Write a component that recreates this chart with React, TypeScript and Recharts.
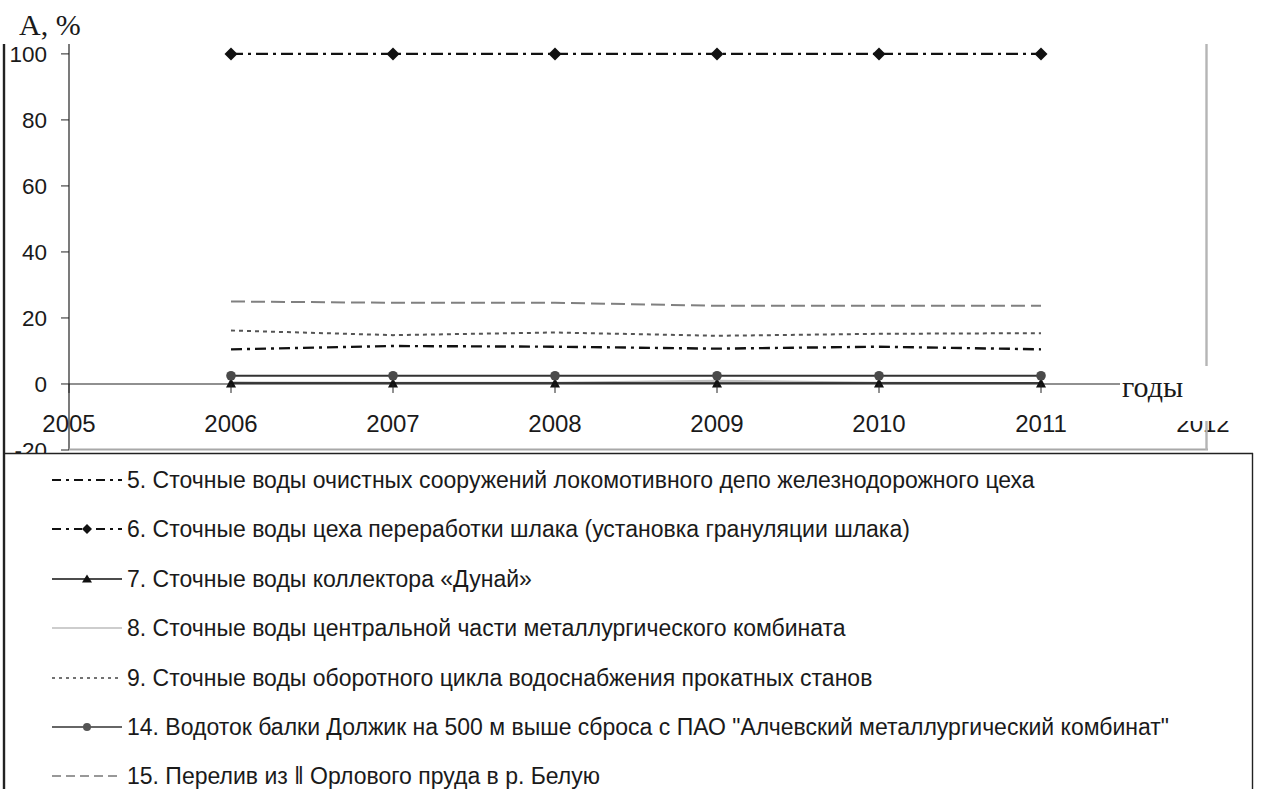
import React from 'react';
import { LineChart, Line, XAxis, YAxis, ReferenceLine, Legend } from 'recharts';

// ---- data ----
const years = [2006, 2007, 2008, 2009, 2010, 2011];
const s5 = [10.5, 11.5, 11.3, 10.7, 11.3, 10.5];
const s6 = [100, 100, 100, 100, 100, 100];
const s7 = [0.3, 0.3, 0.3, 0.3, 0.3, 0.3];
const s8 = [0.5, 0.4, 0.4, 1.0, 0.4, 0.3];
const s9 = [16.2, 14.8, 15.6, 14.6, 15.2, 15.4];
const s14 = [2.5, 2.5, 2.5, 2.5, 2.5, 2.5];
const s15 = [25.0, 24.6, 24.6, 23.7, 23.7, 23.7];

const xTicks = [2005, 2006, 2007, 2008, 2009, 2010, 2011, 2012];
const yTicks = [-20, 0, 20, 40, 60, 80, 100];

const legendLabels = [
  '5. Сточные воды очистных сооружений локомотивного депо железнодорожного цеха',
  '6. Сточные воды цеха переработки шлака (установка грануляции шлака)',
  '7. Сточные воды коллектора «Дунай»',
  '8. Сточные воды центральной части металлургического комбината',
  '9. Сточные воды оборотного цикла водоснабжения прокатных станов',
  '14. Водоток балки Должик на 500 м выше сброса с ПАО "Алчевский металлургический комбинат"',
  '15. Перелив из \u2016 Орлового пруда в р. Белую',
];
const yTitle = 'A, %';
const xTitle = 'годы';

const data = years.map((year, i) => ({
  year,
  s5: s5[i],
  s6: s6[i],
  s7: s7[i],
  s8: s8[i],
  s9: s9[i],
  s14: s14[i],
  s15: s15[i],
}));

// ---- layout ----
const W = 1265;
const H = 789;
const PLOT_TOP = 44;
const PLOT_BOTTOM = 450;
const PLOT_LEFT = 69;
const PLOT_RIGHT = 1203;
const Y_MIN = -20;
const Y_MAX = 103;
const ZERO_OFFSET = ((PLOT_BOTTOM - PLOT_TOP) * (0 - Y_MIN)) / (Y_MAX - Y_MIN);
const SANS = '"Liberation Sans", Arial, sans-serif';
const SERIF = '"Liberation Serif", "Times New Roman", serif';

const XTick = (props: any) => {
  const { x, y, payload } = props;
  return (
    <g>
      <line x1={x} x2={x} y1={y - ZERO_OFFSET} y2={y - ZERO_OFFSET + 9} stroke="#222" strokeWidth={1} />
      <text x={x} y={y - 18} textAnchor="middle" fontSize={24} fontFamily={SANS} fill="#1a1a1a">
        {payload.value}
      </text>
    </g>
  );
};

const Diamond = (props: any) => {
  const { cx, cy, index } = props;
  if (cx == null || cy == null) return <g key={`d${index}`} />;
  return (
    <path
      key={`d${index}`}
      d={`M${cx},${cy - 6.5} L${cx + 6.5},${cy} L${cx},${cy + 6.5} L${cx - 6.5},${cy} Z`}
      fill="#111"
    />
  );
};

const Triangle = (props: any) => {
  const { cx, cy, index } = props;
  if (cx == null || cy == null) return <g key={`t${index}`} />;
  return (
    <path key={`t${index}`} d={`M${cx},${cy - 5} L${cx + 5},${cy + 4.5} L${cx - 5},${cy + 4.5} Z`} fill="#111" />
  );
};

const Circle = (props: any) => {
  const { cx, cy, index } = props;
  if (cx == null || cy == null) return <g key={`c${index}`} />;
  return <circle key={`c${index}`} cx={cx} cy={cy} r={4.8} fill="#4a4a4a" />;
};

const legendSymbols = [
  (
    <g>
      <line x1={0} x2={70} y1={10} y2={10} stroke="#111" strokeWidth={2} strokeDasharray="9 5 3 5" />
    </g>
  ),
  (
    <g>
      <line x1={0} x2={70} y1={10} y2={10} stroke="#111" strokeWidth={2} strokeDasharray="9 5 3 5" />
      <rect x={30} y={5} width={10} height={10} fill="#fff" />
      <path d="M35,5 L40,10 L35,15 L30,10 Z" fill="#111" />
    </g>
  ),
  (
    <g>
      <line x1={0} x2={70} y1={10} y2={10} stroke="#111" strokeWidth={1.6} />
      <path d="M35,5.5 L40,13.5 L30,13.5 Z" fill="#111" />
    </g>
  ),
  (
    <g>
      <line x1={0} x2={70} y1={10} y2={10} stroke="#bdbdbd" strokeWidth={1.6} />
    </g>
  ),
  (
    <g>
      <line x1={0} x2={70} y1={10} y2={10} stroke="#444" strokeWidth={1.4} strokeDasharray="3 4" />
    </g>
  ),
  (
    <g>
      <line x1={0} x2={70} y1={10} y2={10} stroke="#333" strokeWidth={1.6} />
      <circle cx={35} cy={10} r={4} fill="#555" />
    </g>
  ),
  (
    <g>
      <line x1={0} x2={70} y1={10} y2={10} stroke="#777" strokeWidth={1.6} strokeDasharray="9 5" />
    </g>
  ),
];

const renderLegend = () => (
  <div style={{ paddingTop: 17, fontFamily: SANS, fontSize: 23, color: '#1a1a1a' }}>
    {legendLabels.map((label, i) => (
      <div key={i} style={{ height: 49.4, display: 'flex', alignItems: 'flex-start', whiteSpace: 'nowrap' }}>
        <svg width={70} height={20} style={{ marginLeft: 49, marginTop: 0, flex: 'none' }}>
          {legendSymbols[i]}
        </svg>
        <span style={{ marginLeft: 5, lineHeight: '20px' }}>{label}</span>
      </div>
    ))}
  </div>
);

export default function App() {
  return (
    <div style={{ position: 'absolute', left: 0, top: 0, width: W, height: H, background: '#fff', overflow: 'hidden' }}>
      <LineChart
        width={W}
        height={H}
        data={data}
        margin={{ top: PLOT_TOP, right: W - PLOT_RIGHT, left: 0, bottom: H - PLOT_BOTTOM - 30 }}
      >
        <XAxis
          dataKey="year"
          type="number"
          domain={[2005, 2012]}
          ticks={xTicks}
          allowDataOverflow
          height={30}
          axisLine={false}
          tickLine={false}
          tickSize={0}
          tickMargin={0}
          tick={<XTick />}
          interval={0}
        />
        <YAxis
          type="number"
          domain={[Y_MIN, Y_MAX]}
          ticks={yTicks}
          allowDataOverflow
          width={PLOT_LEFT}
          axisLine={{ stroke: '#222', strokeWidth: 1.2 }}
          tickLine={{ stroke: '#222' }}
          tickSize={8}
          tickMargin={14}
          tick={{ fontSize: 22.5, fontFamily: SANS, fill: '#1a1a1a' }}
          interval={0}
        />
        <ReferenceLine y={0} stroke="#222" strokeWidth={1.2} ifOverflow="extendDomain" />
        <Line dataKey="s8" stroke="#bdbdbd" strokeWidth={2} dot={false} isAnimationActive={false} />
        <Line dataKey="s7" stroke="#111" strokeWidth={1.6} dot={<Triangle />} isAnimationActive={false} />
        <Line dataKey="s14" stroke="#333" strokeWidth={2} dot={<Circle />} isAnimationActive={false} />
        <Line dataKey="s9" stroke="#555" strokeWidth={2} strokeDasharray="4 4" dot={false} isAnimationActive={false} />
        <Line dataKey="s15" stroke="#808080" strokeWidth={2} strokeDasharray="14 6" dot={false} isAnimationActive={false} />
        <Line dataKey="s5" stroke="#111" strokeWidth={2.4} strokeDasharray="11 5 3 5" dot={false} isAnimationActive={false} />
        <Line dataKey="s6" stroke="#111" strokeWidth={2.4} strokeDasharray="12 5 3 5" dot={<Diamond />} isAnimationActive={false} />
        <Legend
          layout="horizontal"
          verticalAlign="middle"
          align="center"
          content={renderLegend}
          wrapperStyle={{ left: 3, top: 453, width: 1250, height: 340, background: '#fff', margin: 0 }}
        />
      </LineChart>
      <svg width={W} height={H} style={{ position: 'absolute', left: 0, top: 0, pointerEvents: 'none' }}>
        {/* chart frame */}
        <line x1={PLOT_LEFT} x2={1208} y1={449.5} y2={449.5} stroke="#a8a8a8" strokeWidth={2.2} />
        <line x1={1206.5} x2={1206.5} y1={PLOT_TOP} y2={450} stroke="#b5b5b5" strokeWidth={2.4} />
        <line x1={4} x2={4} y1={PLOT_TOP} y2={H} stroke="#222" strokeWidth={2.4} />
        {/* legend frame */}
        <line x1={3} x2={1253} y1={453.5} y2={453.5} stroke="#222" strokeWidth={1.4} />
        <line x1={1252.5} x2={1252.5} y1={453} y2={H} stroke="#222" strokeWidth={1.4} />
        {/* axis titles */}
        <text x={19} y={35} fontFamily={SERIF} fontSize={30} fill="#1a1a1a">{yTitle}</text>
        <rect x={1120} y={366} width={145} height={55} fill="#fff" />
        <text x={1122} y={397} fontFamily={SERIF} fontSize={30} fill="#1a1a1a">{xTitle}</text>
      </svg>
    </div>
  );
}
